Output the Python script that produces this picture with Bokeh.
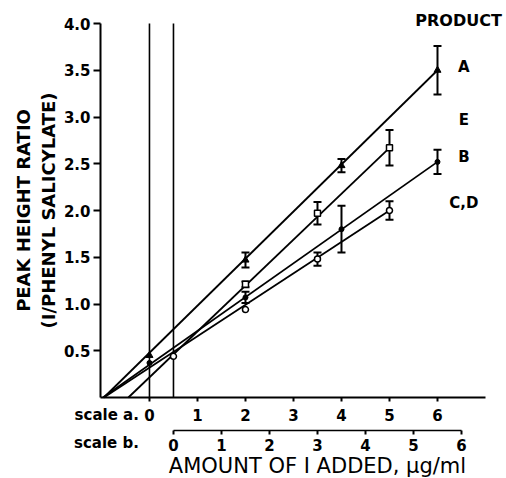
from bokeh.plotting import figure
from bokeh.models import Range1d, LinearAxis, FixedTicker, Label, NumeralTickFormatter
from bokeh.embed import file_html
from bokeh.resources import INLINE

# ---------------- data ----------------
a_ticks = [0, 1, 2, 3, 4, 5, 6]
b_ticks = [0, 1, 2, 3, 4, 5, 6]
y_ticks = [0.5, 1.0, 1.5, 2.0, 2.5, 3.0, 3.5, 4.0]
ref_lines_a = [0.0, 0.5]          # zero of scale a and zero of scale b (on scale a)

# Product A (scale a)
prod_a_x = [0, 2, 4, 6]
prod_a_y = [0.45, 1.47, 2.48, 3.50]
prod_a_err = [0.0, 0.08, 0.07, 0.26]
# Product B (scale a)
prod_b_x = [0, 2, 4, 6]
prod_b_y = [0.37, 1.07, 1.80, 2.52]
prod_b_err = [0.0, 0.06, 0.25, 0.13]
# Product E (scale b)
prod_e_x = [1.5, 3.0, 4.5]
prod_e_y = [1.21, 1.97, 2.67]
prod_e_err = [0.03, 0.12, 0.19]
# Product C,D (scale b)
prod_cd_x = [0.0, 1.5, 3.0, 4.5]
prod_cd_y = [0.44, 0.94, 1.48, 2.00]
prod_cd_err = [0.0, 0.0, 0.07, 0.10]

# regression lines (x from x-intercept to last point)
fit_a_x, fit_a_y = [-0.95, 6.0], [0.0, 3.50]
fit_b_x, fit_b_y = [-0.97, 6.0], [0.0, 2.52]
fit_e_x, fit_e_y = [-0.94, 4.5], [0.0, 2.67]
fit_cd_x, fit_cd_y = [-1.45, 4.5], [0.0, 2.00]

product_names = ["A", "E", "B", "C,D"]
product_label_y = [3.53, 2.97, 2.57, 2.08]

# ---------------- figure ----------------
FONT = "DejaVu Sans"
X0, X1 = -1.02, 7.0     # extent of scale-a axis
Y0, Y1 = 0.0, 4.0       # extent of y axis
p = figure(width=506, height=478, output_backend="svg", toolbar_location=None,
           x_range=Range1d(X0 - 100 / 48.0, X1 + 21 / 48.0),
           y_range=Range1d(Y0 - 81 / 93.5, Y1 + 23 / 93.5),
           x_axis_type=None, y_axis_type=None,
           min_border_left=0, min_border_right=0, min_border_top=0, min_border_bottom=0)
p.extra_x_ranges = {"b": Range1d(X0 - 100 / 48.0 - 0.5, X1 + 21 / 48.0 - 0.5)}
p.outline_line_color = None
p.xgrid.visible = False
p.ygrid.visible = False
p.background_fill_color = "white"
p.border_fill_color = "white"

def style_axis(ax):
    ax.axis_line_width = 2
    ax.axis_line_color = "black"
    ax.major_tick_line_width = 2
    ax.major_tick_line_color = "black"
    ax.major_tick_in = 0
    ax.major_tick_out = 4
    ax.minor_tick_line_color = None
    ax.major_label_text_font = FONT
    ax.major_label_text_font_style = "bold"
    ax.major_label_text_font_size = "15px"
    ax.major_label_text_color = "black"
    ax.axis_label_text_color = "black"

yax = LinearAxis(ticker=FixedTicker(ticks=y_ticks), formatter=NumeralTickFormatter(format="0.0"),
                 fixed_location=X0)
style_axis(yax)
yax.major_tick_out = 7
yax.major_label_standoff = 3
yax.bounds = (Y0, Y1)
yax.axis_label = "PEAK HEIGHT RATIO\n(I/PHENYL SALICYLATE)"
yax.axis_label_text_font = FONT
yax.axis_label_text_font_style = "bold"
yax.axis_label_text_font_size = "18px"
yax.axis_label_standoff = 2
p.add_layout(yax, "left")

xa = LinearAxis(ticker=FixedTicker(ticks=a_ticks), fixed_location=Y0)
style_axis(xa)
xa.major_label_standoff = 7
xa.bounds = (X0, X1)
p.add_layout(xa, "below")

xb = LinearAxis(x_range_name="b", ticker=FixedTicker(ticks=b_ticks), fixed_location=-0.353)
style_axis(xb)
xb.axis_line_width = 1.5
xb.major_label_standoff = 4
xb.bounds = (0, 6)
xb.axis_label = "AMOUNT OF I ADDED, \u03bcg/ml"
xb.axis_label_text_font = FONT
xb.axis_label_text_font_style = "normal"
xb.axis_label_text_font_size = "21px"
xb.axis_label_standoff = 0
p.add_layout(xb, "below")

# vertical reference lines
p.segment(x0=ref_lines_a, y0=[Y0] * len(ref_lines_a), x1=ref_lines_a,
          y1=[Y1] * len(ref_lines_a), line_color="black", line_width=1.6)

# fitted lines
for fx, fy, rn in [(fit_a_x, fit_a_y, "default"), (fit_b_x, fit_b_y, "default"),
                   (fit_e_x, fit_e_y, "b"), (fit_cd_x, fit_cd_y, "b")]:
    p.line(fx, fy, line_color="black", line_width=1.8, x_range_name=rn)

# error bars
def errbars(xs, ys, es, rn):
    xx = [x for x, e in zip(xs, es) if e > 0]
    lo = [y - e for y, e in zip(ys, es) if e > 0]
    hi = [y + e for y, e in zip(ys, es) if e > 0]
    p.segment(x0=xx, y0=lo, x1=xx, y1=hi, line_color="black", line_width=2, x_range_name=rn)
    p.dash(xx, lo, size=8, line_color="black", line_width=2, x_range_name=rn)
    p.dash(xx, hi, size=8, line_color="black", line_width=2, x_range_name=rn)

errbars(prod_a_x, prod_a_y, prod_a_err, "default")
errbars(prod_b_x, prod_b_y, prod_b_err, "default")
errbars(prod_e_x, prod_e_y, prod_e_err, "b")
errbars(prod_cd_x, prod_cd_y, prod_cd_err, "b")

# markers
p.scatter(prod_a_x, prod_a_y, marker="triangle", size=7, fill_color="black", line_color="black")
p.scatter(prod_b_x, prod_b_y, marker="circle", size=5, fill_color="black", line_color="black")
p.scatter(prod_e_x, prod_e_y, marker="square", size=6, fill_color="white", line_color="black",
          line_width=1.5, x_range_name="b")
p.scatter(prod_cd_x, prod_cd_y, marker="circle", size=6, fill_color="white", line_color="black",
          line_width=1.5, x_range_name="b")

# product labels
p.add_layout(Label(x=6.44, y=4.03, text="PRODUCT", text_font=FONT, text_font_style="bold",
                   text_font_size="16px", text_align="center", text_baseline="middle",
                   text_color="black"))
for name, ly in zip(product_names, product_label_y):
    p.add_layout(Label(x=6.55, y=ly, text=name, text_font=FONT, text_font_style="bold",
                       text_font_size="15px", text_align="center", text_baseline="middle",
                       text_color="black"))

# scale captions
p.add_layout(Label(x=-0.22, y=-0.19, text="scale a.", text_font=FONT, text_font_style="bold",
                   text_font_size="15px", text_align="right", text_baseline="middle",
                   text_color="black"))
p.add_layout(Label(x=-0.22, y=-0.49, text="scale b.", text_font=FONT, text_font_style="bold",
                   text_font_size="15px", text_align="right", text_baseline="middle",
                   text_color="black"))

open("out.html", "w").write(file_html(p, INLINE))
